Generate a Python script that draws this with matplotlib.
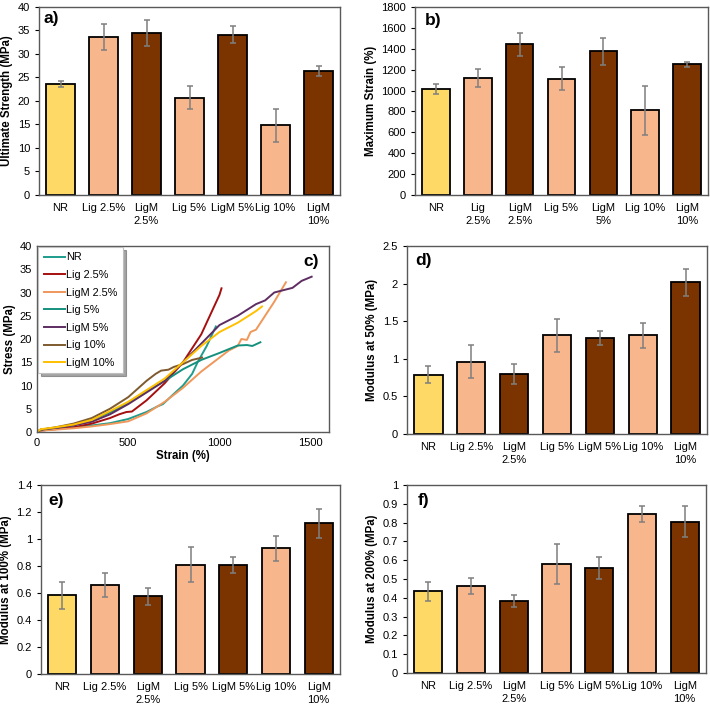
import matplotlib
matplotlib.use("Agg")
import matplotlib.pyplot as plt
import numpy as np

plt.rcParams['font.family'] = ['Liberation Sans', 'DejaVu Sans']

# ---------------- data ----------------
groups = ["NR", "Lig 2.5%", "LigM 2.5%", "Lig 5%", "LigM 5%", "Lig 10%", "LigM 10%"]
labels_std = ["NR", "Lig 2.5%", "LigM\n2.5%", "Lig 5%", "LigM 5%", "Lig 10%", "LigM\n10%"]
labels_b = ["NR", "Lig\n2.5%", "LigM\n2.5%", "Lig 5%", "LigM\n5%", "Lig 10%", "LigM\n10%"]

strength = [23.6, 33.6, 34.4, 20.7, 34.1, 14.8, 26.4]
strength_err = [0.6, 2.8, 2.8, 2.4, 1.8, 3.6, 1.1]
max_strain = [1015, 1120, 1445, 1115, 1375, 810, 1250]
max_strain_err = [50, 90, 110, 110, 130, 235, 20]
mod50 = [0.79, 0.96, 0.80, 1.31, 1.28, 1.31, 2.02]
mod50_err = [0.11, 0.22, 0.13, 0.22, 0.09, 0.17, 0.18]
mod100 = [0.585, 0.66, 0.575, 0.81, 0.81, 0.93, 1.115]
mod100_err = [0.10, 0.09, 0.065, 0.13, 0.06, 0.09, 0.11]
mod200 = [0.435, 0.462, 0.385, 0.58, 0.56, 0.845, 0.805]
mod200_err = [0.05, 0.042, 0.032, 0.108, 0.058, 0.044, 0.082]

# stress-strain curves (strain %, stress MPa)
curve_names = ["NR", "Lig 2.5%", "LigM 2.5%", "Lig 5%", "LigM 5%", "Lig 10%", "LigM 10%"]
nr_x = [0, 20, 100, 200, 300, 400, 500, 600, 660, 690, 750, 800, 850, 880, 930, 980]
nr_y = [0, 0.4, 0.7, 1.0, 1.4, 1.9, 2.8, 4.3, 5.5, 6.0, 8.2, 10.0, 12.5, 15.0, 18.5, 22.7]
lig25_x = [0, 20, 100, 200, 300, 400, 450, 490, 520, 600, 700, 800, 900, 1000, 1011]
lig25_y = [0, 0.3, 0.6, 1.0, 1.8, 3.0, 3.8, 4.3, 4.4, 6.8, 10.5, 15.0, 21.0, 29.5, 30.9]
ligm25_x = [0, 20, 100, 200, 300, 400, 500, 600, 700, 800, 900, 1000, 1050, 1100, 1120, 1150, 1170, 1200, 1250, 1300, 1364]
ligm25_y = [0, 0.3, 0.5, 0.8, 1.2, 1.7, 2.3, 4.0, 6.5, 9.5, 13.0, 16.0, 17.5, 18.5, 20.0, 19.8, 21.5, 22.0, 25.0, 28.0, 32.2]
lig5_x = [0, 20, 100, 200, 300, 400, 500, 600, 700, 800, 900, 1000, 1050, 1100, 1150, 1180, 1224]
lig5_y = [0, 0.5, 0.9, 1.5, 2.6, 4.2, 6.2, 8.8, 11.0, 13.5, 15.5, 17.0, 17.8, 18.6, 18.7, 18.5, 19.3]
ligm5_x = [0, 20, 100, 200, 300, 400, 500, 600, 700, 800, 900, 1000, 1100, 1200, 1250, 1300, 1350, 1400, 1450, 1505]
ligm5_y = [0, 0.5, 0.9, 1.4, 2.2, 3.8, 6.0, 8.5, 11.0, 15.0, 19.0, 23.0, 25.0, 27.5, 28.3, 30.0, 30.5, 31.0, 32.5, 33.4]
lig10_x = [0, 20, 100, 200, 300, 400, 500, 600, 650, 680, 720, 750, 800, 850, 905]
lig10_y = [0, 0.5, 1.0, 1.8, 3.0, 5.0, 7.5, 11.0, 12.5, 13.2, 13.4, 14.0, 14.6, 15.5, 16.0]
ligm10_x = [0, 20, 100, 200, 300, 400, 500, 600, 700, 800, 900, 1000, 1100, 1200, 1233]
ligm10_y = [0, 0.6, 1.0, 1.6, 2.6, 4.5, 6.5, 9.0, 11.5, 15.0, 18.5, 21.5, 23.5, 26.0, 27.0]

# ---------------- styling ----------------
c_nr = "#FFD966"
c_lig = "#F8B68C"
c_ligm = "#7B3300"
bar_colors = [c_nr, c_lig, c_ligm, c_lig, c_ligm, c_lig, c_ligm]
curve_colors = ["#1E9C8C", "#A50F0F", "#F0975A", "#14907F", "#5E2D62", "#7F5A2E", "#FFC000"]
frame_col = "#595959"

W, H = 710, 706
fig = plt.figure(figsize=(W / 100, H / 100), dpi=100)


def px_axes(l, r, t, b):
    return fig.add_axes([l / W, 1 - b / H, (r - l) / W, (b - t) / H])


def style_frame(ax):
    for s in ax.spines.values():
        s.set_color(frame_col)
        s.set_linewidth(1.0)
    ax.tick_params(axis='both', labelsize=8, colors='black', length=3, width=0.8)
    ax.tick_params(axis='x', length=0, pad=6)


def fmt_num(v, pos=None):
    return "%g" % round(v, 6)


def add_letter(ax, letter, dx_px, dy_px, ha='left'):
    l, b, w, h = ax.get_position().bounds
    x = dx_px / (w * W) if ha == 'left' else 1 - dx_px / (w * W)
    y = 1 - dy_px / (h * H)
    ax.text(x, y, letter, transform=ax.transAxes, fontsize=12.5, fontweight='bold',
            va='top', ha=ha)


def bar_panel(rect, vals, errs, labels, ylim, yticks, ylabel, letter, ldx, ldy):
    ax = px_axes(*rect)
    x = np.arange(len(vals))
    ax.bar(x, vals, width=0.66, color=bar_colors, edgecolor="black", linewidth=1.3,
           yerr=errs, error_kw=dict(ecolor="#7F7F7F", elinewidth=1.1, capsize=2.5, capthick=1.1),
           zorder=2)
    ax.set_xlim(-0.5, len(vals) - 0.5)
    ax.set_ylim(*ylim)
    ax.set_yticks(yticks)
    ax.yaxis.set_major_formatter(matplotlib.ticker.FuncFormatter(fmt_num))
    ax.set_xticks(x)
    ax.set_xticklabels(labels, linespacing=1.3)
    ax.set_ylabel(ylabel, fontsize=8.3, fontweight='bold', labelpad=3)
    style_frame(ax)
    add_letter(ax, letter, ldx, ldy)
    return ax


# a)
bar_panel((39, 340, 7, 195), strength, strength_err, labels_std, (0, 40), np.arange(0, 41, 5),
          "Ultimate Strength (MPa)", "a)", 4, 4)
# b)
bar_panel((415, 708, 7, 195), max_strain, max_strain_err, labels_b, (0, 1800), np.arange(0, 1801, 200),
          "Maximum Strain (%)", "b)", 10, 6)
# d)
bar_panel((407, 707, 246, 434), mod50, mod50_err, labels_std, (0, 2.5), np.arange(0, 2.51, 0.5),
          "Modulus at 50% (MPa)", "d)", 8, 7)
# e)
bar_panel((41, 340, 485, 674), mod100, mod100_err, labels_std, (0, 1.4), np.arange(0, 1.41, 0.2),
          "Modulus at 100% (MPa)", "e)", 7, 8)
# f)
bar_panel((407, 706, 485, 673), mod200, mod200_err, labels_std, (0, 1.0), np.arange(0, 1.01, 0.1),
          "Modulus at 200% (MPa)", "f)", 11, 8)

# c) stress-strain
axc = px_axes(37, 329, 246, 432)
curves = [(nr_x, nr_y), (lig25_x, lig25_y), (ligm25_x, ligm25_y), (lig5_x, lig5_y),
          (ligm5_x, ligm5_y), (lig10_x, lig10_y), (ligm10_x, ligm10_y)]
for (cx, cy), name, col in zip(curves, curve_names, curve_colors):
    axc.plot(cx, cy, color=col, lw=1.4, label=name)
axc.set_xlim(0, 1600)
axc.set_ylim(0, 40)
axc.set_xticks([0, 500, 1000, 1500])
axc.set_yticks(np.arange(0, 41, 5))
axc.set_xlabel("Strain (%)", fontsize=8.3, fontweight='bold', labelpad=2)
axc.set_ylabel("Stress (MPa)", fontsize=8.3, fontweight='bold', labelpad=3)
style_frame(axc)
axc.tick_params(axis='y', length=0)
axc.tick_params(axis='x', pad=4)
add_letter(axc, "c)", 10, 8, ha='right')
leg = axc.legend(loc='upper left', fontsize=7.8, frameon=True, fancybox=False, shadow=True,
                 borderaxespad=0.1, handlelength=2.0, handletextpad=0.1, labelspacing=0.7,
                 borderpad=0.5)
leg.get_frame().set_edgecolor("#BFBFBF")
leg.get_frame().set_linewidth(0.8)

fig.savefig("out.png", dpi=100)
